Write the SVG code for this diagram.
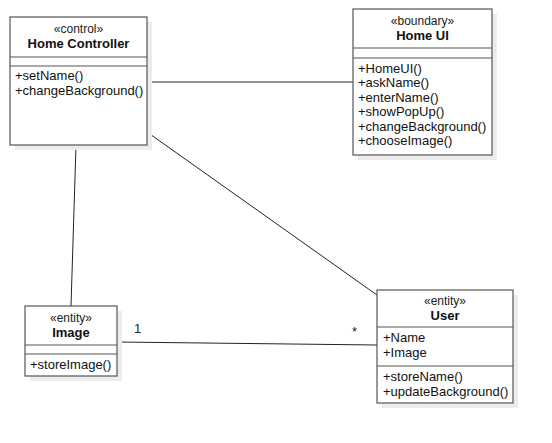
<svg xmlns="http://www.w3.org/2000/svg" width="552" height="443" viewBox="0 0 552 443">
<style>
.box{fill:#fff;stroke:#555;stroke-width:1.2}
.sh{fill:#ececec}
.div{stroke:#555;stroke-width:1.2}
.st{font-family:"Liberation Sans",Arial,sans-serif;font-size:12px;fill:#222;text-anchor:middle}
.nm{font-family:"Liberation Sans",Arial,sans-serif;font-size:13px;font-weight:bold;fill:#111;text-anchor:middle}
.m{font-family:"Liberation Sans",Arial,sans-serif;font-size:13px;fill:#111}
.c{stroke:#222;stroke-width:1;fill:none}
.lbl{font-family:"Liberation Sans",Arial,sans-serif;font-size:13px;fill:#222}
</style>
<rect width="552" height="443" fill="#fff"/>
<g id="connectors">
<line class="c" x1="147" y1="82" x2="353" y2="82"/>
<line class="c" x1="147" y1="132" x2="377" y2="295"/>
<line class="c" x1="76" y1="145" x2="71" y2="306"/>
<line class="c" x1="117" y1="342" x2="377" y2="345"/>
<text class="lbl" x="134" y="333">1</text>
<text class="lbl" x="352" y="336">*</text>
</g>
<g id="homeController">
<rect class="sh" x="15" y="22" width="137" height="128"/>
<rect class="box" x="10" y="17" width="137" height="128"/>
<text class="st" x="78.5" y="33">«control»</text>
<text class="nm" x="78.5" y="48">Home Controller</text>
<line class="div" x1="10" y1="57" x2="147" y2="57"/>
<line class="div" x1="10" y1="66" x2="147" y2="66"/>
<text class="m" x="15" y="80">+setName()</text>
<text class="m" x="15" y="95">+changeBackground()</text>
</g>
<g id="homeUI">
<rect class="sh" x="358" y="14" width="139" height="146"/>
<rect class="box" x="353" y="9" width="139" height="146"/>
<text class="st" x="422.5" y="25">«boundary»</text>
<text class="nm" x="422.5" y="40">Home UI</text>
<line class="div" x1="353" y1="48" x2="492" y2="48"/>
<line class="div" x1="353" y1="58" x2="492" y2="58"/>
<text class="m" x="358" y="72.5">+HomeUI()</text>
<text class="m" x="358" y="87">+askName()</text>
<text class="m" x="358" y="101.5">+enterName()</text>
<text class="m" x="358" y="116">+showPopUp()</text>
<text class="m" x="358" y="130.5">+changeBackground()</text>
<text class="m" x="358" y="145">+chooseImage()</text>
</g>
<g id="image">
<rect class="sh" x="30" y="311" width="92" height="70"/>
<rect class="box" x="25" y="306" width="92" height="70"/>
<text class="st" x="71" y="322">«entity»</text>
<text class="nm" x="71" y="337">Image</text>
<line class="div" x1="25" y1="345" x2="117" y2="345"/>
<line class="div" x1="25" y1="354" x2="117" y2="354"/>
<text class="m" x="30" y="369">+storeImage()</text>
</g>
<g id="user">
<rect class="sh" x="382" y="295" width="136" height="113"/>
<rect class="box" x="377" y="290" width="136" height="113"/>
<text class="st" x="445" y="305">«entity»</text>
<text class="nm" x="445" y="320">User</text>
<line class="div" x1="377" y1="327" x2="513" y2="327"/>
<text class="m" x="383" y="342">+Name</text>
<text class="m" x="383" y="357">+Image</text>
<line class="div" x1="377" y1="366" x2="513" y2="366"/>
<text class="m" x="383" y="381">+storeName()</text>
<text class="m" x="383" y="396">+updateBackground()</text>
</g>
</svg>
